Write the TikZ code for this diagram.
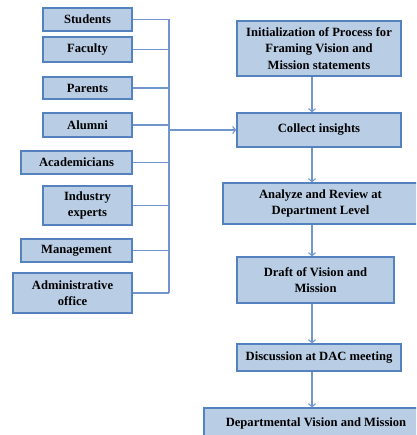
\documentclass[tikz,border=0pt]{standalone}
\usepackage{fontspec}
\setmainfont{Liberation Serif}
\definecolor{boxfill}{RGB}{185,205,229}
\definecolor{boxline}{RGB}{84,130,190}
\definecolor{linkblue}{RGB}{112,150,205}
\usetikzlibrary{arrows.meta,positioning}

\begin{document}
\begin{tikzpicture}[x=1pt,y=-1pt,
  stakebox/.style={draw=boxline,fill=boxfill,line width=1.3pt,align=center,
        inner sep=1pt,font=\fontsize{12.6}{16.5}\selectfont\bfseries},
  stepbox/.style={stakebox,minimum width=164pt},
  link/.style={draw=linkblue,line width=1.1pt},
  arr/.style={link,-{Straight Barb[length=3pt,width=7pt]}}]
  \clip (0,0) rectangle (416,435);
  % Stakeholders
  \node[stakebox,minimum width=89pt,minimum height=23pt] (students) at (87.5,19.5) {Students};
  \node[stakebox,minimum width=89pt,minimum height=25pt] (faculty) at (87.5,49.5) {Faculty};
  \node[stakebox,minimum width=89pt,minimum height=22pt] (parents) at (87.5,88) {Parents};
  \node[stakebox,minimum width=89pt,minimum height=24pt] (alumni) at (87.5,125) {Alumni};
  \node[stakebox,minimum width=111pt,minimum height=23pt] (academicians) at (76.5,162.5) {Academicians};
  \node[stakebox,minimum width=89pt,minimum height=39pt] (industry) at (87.5,205.5) {Industry\\experts};
  \node[stakebox,minimum width=111pt,minimum height=23pt] (management) at (76.5,250.5) {Management};
  \node[stakebox,minimum width=119pt,minimum height=40pt] (admin) at (72.5,293) {Administrative\\office};
  % Process steps
  \node[stepbox,minimum height=55pt] (init) at (319,48.5) {Initialization of Process for\\Framing Vision and\\Mission statements};
  \node[stepbox,minimum height=34pt] (collect) at (319,130) {Collect insights};
  \node[stepbox,minimum width=195pt,minimum height=41pt] (analyze) at (320.5,203.5) {Analyze and Review at\\Department Level};
  \node[stepbox,minimum width=157pt,minimum height=46pt] (draft) at (315.5,280) {Draft of Vision and\\Mission};
  \node[stepbox,minimum height=27pt] (discuss) at (319,357.5) {Discussion at DAC meeting};
  \node[stepbox,minimum width=224pt,minimum height=30pt] (dept) at (316,423) {Departmental Vision and Mission};
  % Bus and arrows
  \coordinate (bus) at (169,0);
  \coordinate (spine) at (312,0);
  \foreach \n in {students,faculty,parents,alumni,academicians,industry,management,admin}
    \draw[link] (\n.east) -- (\n.east -| bus);
  \draw[link] (students.east -| bus) -- (admin.east -| bus);
  \draw[arr] (collect.west -| bus) -- (collect.west);
  \foreach \a/\b in {init/collect,collect/analyze,analyze/draft,draft/discuss,discuss/dept}
    \draw[arr] (\a.south -| spine) -- (\b.north -| spine);
\end{tikzpicture}
\end{document}
